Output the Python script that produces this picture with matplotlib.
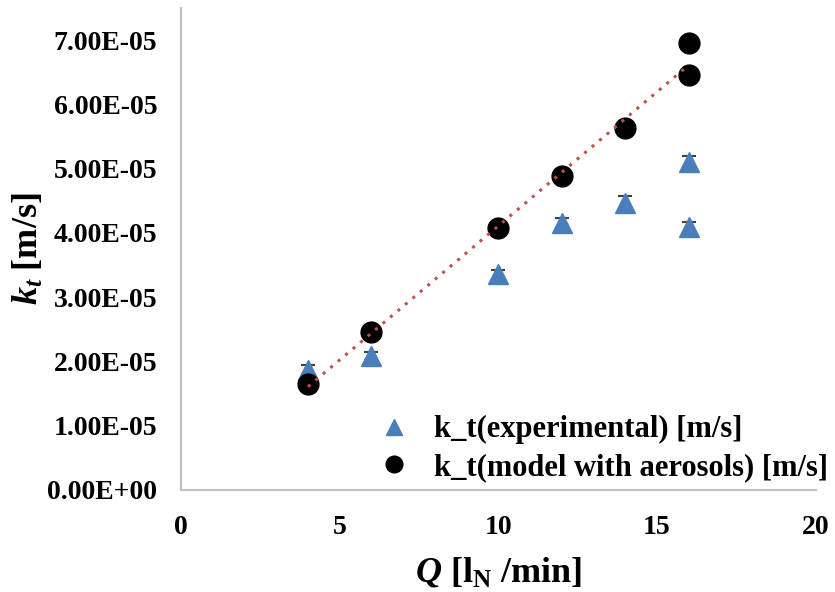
import numpy as np
import matplotlib
matplotlib.use("Agg")
import matplotlib.pyplot as plt

# data
q_exp = [4, 6, 10, 12, 14, 16, 16]
kt_exp = [1.87e-5, 2.08e-5, 3.36e-5, 4.16e-5, 4.46e-5, 5.11e-5, 4.09e-5]
kt_exp_err = [0.07e-5, 0.06e-5, 0.07e-5, 0.08e-5, 0.12e-5, 0.08e-5, 0.08e-5]

q_mod = [4, 6, 10, 12, 14, 16, 16]
kt_mod = [1.65e-5, 2.46e-5, 4.08e-5, 4.89e-5, 5.63e-5, 6.45e-5, 6.95e-5]

x_ticks = [0, 5, 10, 15, 20]
y_ticks = [0, 1e-5, 2e-5, 3e-5, 4e-5, 5e-5, 6e-5, 7e-5]

plt.rcParams['font.family'] = ['Liberation Serif', 'DejaVu Serif']
plt.rcParams['font.weight'] = 'bold'
plt.rcParams['axes.labelweight'] = 'bold'
plt.rcParams['mathtext.fontset'] = 'custom'
plt.rcParams['mathtext.rm'] = 'Liberation Serif:bold'
plt.rcParams['mathtext.it'] = 'Liberation Serif:bold:italic'
plt.rcParams['mathtext.bf'] = 'Liberation Serif:bold'

fig = plt.figure(figsize=(8.35, 5.92), dpi=100)
ax = fig.add_axes([0.2168, 0.1723, 0.7602, 0.8142])

# error bars of the measurements
ax.errorbar(q_exp, kt_exp, yerr=kt_exp_err, fmt='none',
            ecolor='#404040', elinewidth=1.2, capsize=5, capthick=1.5, zorder=2)
ax.plot(q_exp, kt_exp, '^', color='#4a7ebb', markersize=14,
        label='k_t(experimental) [m/s]', zorder=3)
ax.plot(q_mod, kt_mod, 'o', color='black', markersize=15,
        label='k_t(model with aerosols) [m/s]', zorder=4)

# linear trendline of the model points
a, b = np.polyfit(q_mod, kt_mod, 1)
xs = np.array([min(q_mod), max(q_mod)])
ax.plot(xs, a * xs + b, linestyle=(0, (1, 2.2)), color='#c0504d', linewidth=2.2, zorder=5)

ax.set_xlim(0, 20)
ax.set_ylim(0, 7.5e-5)
ax.set_xticks(x_ticks)
ax.set_yticks(y_ticks)
ax.set_yticklabels(['%.2E' % v for v in y_ticks])
ax.tick_params(axis='both', length=0, labelsize=20)
ax.tick_params(axis='y', pad=17)
ax.tick_params(axis='x', pad=18)

for s in ['top', 'right']:
    ax.spines[s].set_visible(False)
for s in ['left', 'bottom']:
    ax.spines[s].set_color('#bfbfbf')
    ax.spines[s].set_linewidth(1.5)

ax.set_xlabel(r'$Q$ [l$_\mathrm{N}$ /min]', fontsize=26, labelpad=11)
ax.set_ylabel(r'$k_t$ [m/s]', fontsize=26, labelpad=1)

ax.legend(loc='lower right', bbox_to_anchor=(1.062, -0.04), frameon=False,
          fontsize=22, handletextpad=0.7, labelspacing=0.28, markerscale=0.8,
          handlelength=1.2)

fig.savefig('out.png', dpi=100)
